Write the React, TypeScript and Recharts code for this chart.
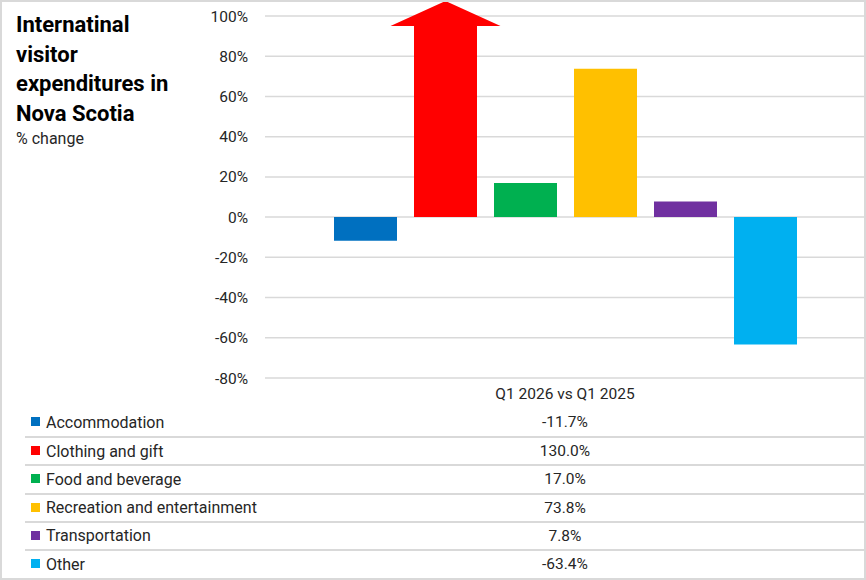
import { BarChart, Bar, XAxis, YAxis, CartesianGrid } from 'recharts';

const period = 'Q1 2026 vs Q1 2025';
const categories = [
    'Accommodation',
    'Clothing and gift',
    'Food and beverage',
    'Recreation and entertainment',
    'Transportation',
    'Other',
];
const changes = [-11.7, 130.0, 17.0, 73.8, 7.8, -63.4];
const colors = ['#0070C0', '#FF0000', '#00B050', '#FFC000', '#7030A0', '#00B0F0'];
const yTicks = [-80, -60, -40, -20, 0, 20, 40, 60, 80, 100];

const Y_MIN = -80;
const Y_MAX = 100;
const FONT = 'Roboto, "Noto Sans", sans-serif';
const TEXT = '#262626';
const LINE = '#d9d9d9';

// bars above the axis max are cut at the top and drawn as an arrow instead
const chartRow: Record<string, string | number> = { period };
changes.forEach((v, i) => {
    chartRow[`s${i}`] = Math.min(v, Y_MAX);
});
const chartData = [chartRow];

function ArrowBar(props: any) {
    const { x, y, width, height, fill } = props;
    const cx = x + width / 2;
    const base = y + 10;
    const bottom = y + height;
    const d = `M${x},${bottom} L${x},${base} L${cx - 55},${base} L${cx},${y - 15} L${cx + 55},${base} L${x + width},${base} L${x + width},${bottom} Z`;
    return <path d={d} fill={fill} />;
}

const ROW_TOP = 408;
const ROW_H = 28.2;

export default function App() {
    return (
        <div
            style={{
                position: 'absolute',
                left: 0,
                top: 0,
                width: 866,
                height: 580,
                boxSizing: 'border-box',
                border: `2px solid ${LINE}`,
                background: '#fff',
                fontFamily: FONT,
                color: TEXT,
                overflow: 'hidden',
            }}
        >
            <div style={{ position: 'absolute', left: 14, top: 8 }}>
                <div style={{ fontSize: 22, fontWeight: 700, lineHeight: '29.5px', color: '#000', width: 170 }}>
                    Internatinal
                    <br />
                    visitor
                    <br />
                    expenditures in
                    <br />
                    Nova Scotia
                </div>
                <div style={{ fontSize: 16, lineHeight: '22px', color: TEXT }}>% change</div>
            </div>

            <div style={{ position: 'absolute', left: -2, top: -2 }}>
                <BarChart
                    width={866}
                    height={400}
                    data={chartData}
                    margin={{ top: 16, right: 1, bottom: 22, left: 0 }}
                    barSize={63}
                    barGap={17}
                >
                    <CartesianGrid vertical={false} stroke={LINE} strokeWidth={1.5} />
                    <XAxis dataKey="period" hide />
                    <YAxis
                        width={265}
                        domain={[Y_MIN, Y_MAX]}
                        ticks={yTicks}
                        interval={0}
                        axisLine={false}
                        tickLine={false}
                        tickSize={0}
                        tickMargin={17}
                        tickFormatter={(v: number) => `${v}%`}
                        tick={{ fill: TEXT, fontSize: 15.5, fontFamily: FONT }}
                    />
                    {categories.map((name, i) => (
                        <Bar
                            key={name}
                            dataKey={`s${i}`}
                            name={name}
                            fill={colors[i]}
                            isAnimationActive={false}
                            shape={changes[i] > Y_MAX ? (p: any) => <ArrowBar {...p} /> : undefined}
                        />
                    ))}
                </BarChart>
            </div>

            {/* data table under the plot */}
            <div
                style={{
                    position: 'absolute',
                    left: 263,
                    top: 377,
                    width: 600,
                    height: 30,
                    lineHeight: '30px',
                    textAlign: 'center',
                    fontSize: 15.5,
                }}
            >
                {period}
            </div>
            {categories.map((name, i) => (
                <div
                    key={name}
                    style={{
                        position: 'absolute',
                        left: 23,
                        top: ROW_TOP - 2 + i * ROW_H,
                        width: 841,
                        height: ROW_H,
                        borderTop: i > 0 ? `2px solid ${LINE}` : 'none',
                        boxSizing: 'border-box',
                        fontSize: 16,
                    }}
                >
                    <div
                        style={{
                            position: 'absolute',
                            left: 6,
                            top: '50%',
                            marginTop: -5,
                            width: 9,
                            height: 9,
                            background: colors[i],
                        }}
                    />
                    <div style={{ position: 'absolute', left: 21, top: 0, bottom: 0, display: 'flex', alignItems: 'center' }}>
                        {name}
                    </div>
                    <div
                        style={{
                            position: 'absolute',
                            left: 240,
                            width: 600,
                            top: 0,
                            bottom: 0,
                            display: 'flex',
                            alignItems: 'center',
                            justifyContent: 'center',
                            fontSize: 15.5,
                        }}
                    >
                        {`${changes[i].toFixed(1)}%`}
                    </div>
                </div>
            ))}
        </div>
    );
}
